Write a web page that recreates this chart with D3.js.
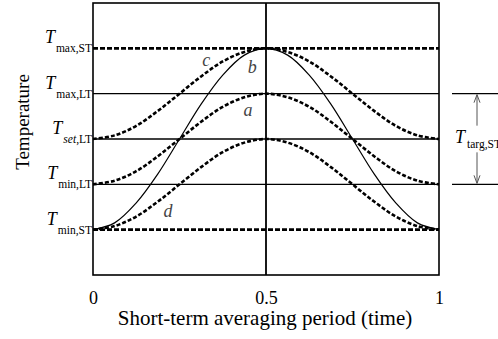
<!DOCTYPE html>
<html><head><meta charset="utf-8">
<script src="https://cdn.jsdelivr.net/npm/d3@7"></script>
<style>body{margin:0;background:#fff}</style>
</head><body><svg id="c" width="498" height="339"></svg>
<script>
// levels: 0=T_min,ST 1=T_min,LT 2=T_set,LT 3=T_max,LT 4=T_max,ST
const levelNames = [["min,ST",0,true],["min,LT",1,false],["set,LT",2,false],["max,LT",3,false],["max,ST",4,true]];
const xTicks = [0, 0.5, 1];
const xs = [0,0.0625,0.125,0.1875,0.25,0.3125,0.375,0.4375,0.5,0.5625,0.625,0.6875,0.75,0.8125,0.875,0.9375,1];
const curveA = [1,1.08,1.29,1.62,2,2.38,2.71,2.92,3,2.92,2.71,2.38,2,1.62,1.29,1.08,1];
const curveB = [0,0.15,0.59,1.23,2,2.77,3.41,3.85,4,3.85,3.41,2.77,2,1.23,0.59,0.15,0];
const curveC = [2,2.08,2.29,2.62,3,3.38,3.71,3.92,4,3.92,3.71,3.38,3,2.62,2.29,2.08,2];
const curveD = [0,0.08,0.29,0.62,1,1.38,1.71,1.92,2,1.92,1.71,1.38,1,0.62,0.29,0.08,0];
const curveLabels = [["c",0.327,3.6],["b",0.46,3.45],["a",0.448,2.5],["d",0.217,0.28]];

const svg = d3.select("#c").style("font-family","Liberation Serif");
const L=93,R=439,T=3,B=275;
const x = d3.scaleLinear().domain([0,1]).range([L,R]);
const y = d3.scaleLinear().domain([-1,5]).range([B,T]);

// horizontal level lines
levelNames.forEach(([n,v,dash])=>{
  svg.append("line").attr("x1",L).attr("x2",R).attr("y1",y(v)).attr("y2",y(v))
    .attr("stroke","#000").attr("stroke-width",dash?2.6:1.4)
    .attr("stroke-dasharray",dash?"5,2":null);
});
// vertical at 0.5
svg.append("line").attr("x1",x(0.5)).attr("x2",x(0.5)).attr("y1",T).attr("y2",B).attr("stroke","#000").attr("stroke-width",1.8);

const line = d3.line().x((d,i)=>x(xs[i])).y(d=>y(d)).curve(d3.curveCatmullRom);
[[curveA,true],[curveC,true],[curveD,true],[curveB,false]].forEach(([c,dash])=>{
  svg.append("path").attr("d",line(c)).attr("fill","none").attr("stroke","#000")
    .attr("stroke-width",dash?2.6:1.2).attr("stroke-dasharray",dash?"4,2":null);
});

// frame
svg.append("rect").attr("x",L).attr("y",T).attr("width",R-L).attr("height",B-T)
  .attr("fill","none").attr("stroke","#000").attr("stroke-width",1.6);

// curve labels
curveLabels.forEach(([t,cx,cy])=>{
  svg.append("text").attr("x",x(cx)).attr("y",y(cy)).attr("text-anchor","middle")
    .attr("font-size",18).attr("font-style","italic").attr("fill","#444").text(t);
});

// y level labels
levelNames.forEach(([n,v])=>{
  const parts = n.split(",");
  const t = svg.append("text").attr("x",L-1).attr("y",y(v)+4).attr("text-anchor","end").attr("font-size",11.5);
  if(parts[0]==="set"){
    t.append("tspan").attr("font-style","italic").text("set");
    t.append("tspan").text(","+parts[1]);
  } else t.text(n);
  const w = t.node().getComputedTextLength();
  svg.append("text").attr("font-size",18).attr("x",L-2-w).attr("y",y(v)-5).attr("text-anchor","end").attr("font-style","italic").text("T");
});

// x axis labels
const ax = svg.append("g").attr("transform",`translate(0,${B+13})`)
  .call(d3.axisBottom(x).tickValues(xTicks).tickSize(0).tickFormat(d3.format("")));
ax.select(".domain").remove();
ax.attr("font-family",null).style("font-family","Liberation Serif");
ax.selectAll("text").attr("font-size",18).attr("fill","#000");

svg.append("text").attr("x",265).attr("y",325).attr("text-anchor","middle").attr("font-size",21).text("Short-term averaging period (time)");
svg.append("text").attr("transform",`translate(29,122) rotate(-90)`).attr("text-anchor","middle").attr("font-size",19).text("Temperature");

// right bracket
const yt=y(3), yb=y(1), ax2=477;
[yt,yb].forEach(v=>svg.append("line").attr("x1",452).attr("x2",498).attr("y1",v).attr("y2",v).attr("stroke","#000").attr("stroke-width",1.4));
svg.append("line").attr("x1",ax2).attr("x2",ax2).attr("y1",yt+1).attr("y2",yt+32).attr("stroke","#555").attr("stroke-width",1);
svg.append("line").attr("x1",ax2).attr("x2",ax2).attr("y1",yb-32).attr("y2",yb-1).attr("stroke","#555").attr("stroke-width",1);
svg.append("path").attr("d",`M${ax2-3},${yt+9}L${ax2},${yt+1}L${ax2+3},${yt+9}`).attr("fill","none").attr("stroke","#555");
svg.append("path").attr("d",`M${ax2-3},${yb-9}L${ax2},${yb-1}L${ax2+3},${yb-9}`).attr("fill","none").attr("stroke","#555");
svg.append("text").attr("x",455).attr("y",y(2)+4).attr("font-size",18).attr("font-style","italic").text("T");
svg.append("text").attr("x",467).attr("y",y(2)+9).attr("font-size",11.5).text("targ,ST");
</script></body></html>
